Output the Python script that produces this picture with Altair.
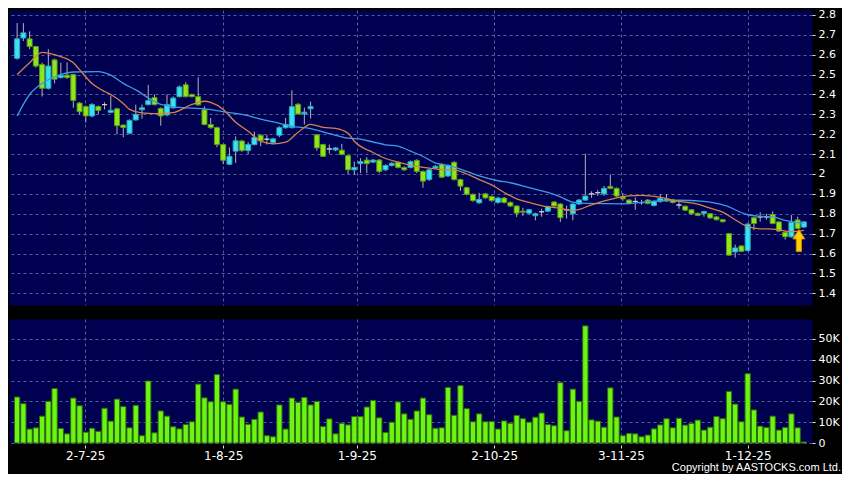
import altair as alt
import pandas as pd

# ---------------- data ----------------
opens = [2.582, 2.684, 2.680, 2.641, 2.551, 2.431, 2.574, 2.485, 2.497, 2.500,
         2.357, 2.339, 2.292, 2.339, 2.349, 2.310, 2.328, 2.246, 2.205, 2.272,
         2.323, 2.349, 2.385, 2.330, 2.297, 2.333, 2.389, 2.449, 2.400, 2.389,
         2.323, 2.249, 2.233, 2.148, 2.049, 2.115, 2.166, 2.118, 2.148, 2.195,
         2.175, 2.159, 2.195, 2.233, 2.233, 2.351, 2.302, 2.328, 2.197, 2.148,
         2.126, 2.121, 2.120, 2.092, 2.021, 2.052, 2.070, 2.060, 2.070, 2.021,
         2.043, 2.059, 2.033, 2.033, 2.069, 2.013, 1.972, 2.030, 2.049, 1.990,
         2.059, 1.972, 1.931, 1.898, 1.855, 1.900, 1.887, 1.857, 1.879, 1.857,
         1.839, 1.813, 1.803, 1.790, 1.810, 1.813, 1.859, 1.849, 1.820, 1.800,
         1.849, 1.869, 1.900, 1.906, 1.900, 1.938, 1.928, 1.885, 1.869, 1.862,
         1.856, 1.869, 1.842, 1.861, 1.874, 1.870, 1.844, 1.838, 1.820, 1.802,
         1.802, 1.800, 1.784, 1.770, 1.700, 1.608, 1.638, 1.615, 1.780, 1.784,
         1.784, 1.797, 1.759, 1.707, 1.684, 1.769, 1.733]
closes = [2.680, 2.710, 2.641, 2.543, 2.431, 2.543, 2.477, 2.497, 2.485, 2.370,
          2.313, 2.292, 2.349, 2.320, 2.349, 2.320, 2.243, 2.234, 2.270, 2.300,
          2.333, 2.369, 2.349, 2.292, 2.349, 2.382, 2.438, 2.389, 2.389, 2.348,
          2.249, 2.233, 2.148, 2.069, 2.089, 2.167, 2.118, 2.148, 2.184, 2.167,
          2.175, 2.177, 2.233, 2.249, 2.339, 2.302, 2.311, 2.339, 2.131, 2.089,
          2.126, 2.131, 2.098, 2.021, 2.033, 2.062, 2.052, 2.070, 2.013, 2.043,
          2.054, 2.033, 2.021, 2.062, 2.013, 1.964, 2.021, 2.039, 1.984, 2.043,
          1.972, 1.939, 1.898, 1.866, 1.872, 1.880, 1.866, 1.879, 1.857, 1.839,
          1.803, 1.808, 1.820, 1.800, 1.810, 1.836, 1.839, 1.780, 1.820, 1.849,
          1.869, 1.889, 1.900, 1.906, 1.928, 1.928, 1.889, 1.875, 1.852, 1.862,
          1.856, 1.852, 1.862, 1.877, 1.864, 1.857, 1.844, 1.818, 1.800, 1.792,
          1.811, 1.779, 1.770, 1.760, 1.592, 1.628, 1.611, 1.748, 1.751, 1.784,
          1.784, 1.751, 1.713, 1.684, 1.756, 1.726, 1.759]
highs = [2.759, 2.759, 2.718, 2.645, 2.560, 2.628, 2.580, 2.560, 2.562, 2.505,
         2.362, 2.345, 2.357, 2.345, 2.361, 2.395, 2.333, 2.250, 2.275, 2.349,
         2.349, 2.448, 2.400, 2.335, 2.400, 2.390, 2.445, 2.462, 2.405, 2.487,
         2.340, 2.282, 2.238, 2.152, 2.134, 2.189, 2.172, 2.160, 2.213, 2.200,
         2.197, 2.182, 2.240, 2.282, 2.421, 2.356, 2.334, 2.364, 2.200, 2.152,
         2.148, 2.136, 2.152, 2.096, 2.062, 2.079, 2.085, 2.075, 2.075, 2.048,
         2.060, 2.063, 2.038, 2.068, 2.074, 2.018, 2.026, 2.044, 2.054, 2.048,
         2.064, 1.976, 1.936, 1.902, 1.905, 1.905, 1.892, 1.885, 1.884, 1.862,
         1.843, 1.830, 1.825, 1.805, 1.825, 1.841, 1.864, 1.853, 1.841, 1.853,
         1.874, 2.103, 1.913, 1.920, 1.940, 1.997, 1.932, 1.905, 1.873, 1.882,
         1.870, 1.873, 1.867, 1.898, 1.898, 1.875, 1.858, 1.842, 1.824, 1.806,
         1.815, 1.804, 1.788, 1.774, 1.704, 1.645, 1.642, 1.752, 1.784, 1.808,
         1.800, 1.812, 1.763, 1.711, 1.793, 1.785, 1.763]
lows = [2.575, 2.669, 2.628, 2.535, 2.390, 2.425, 2.456, 2.480, 2.478, 2.333,
        2.300, 2.259, 2.285, 2.300, 2.325, 2.305, 2.200, 2.185, 2.200, 2.268,
        2.278, 2.345, 2.345, 2.243, 2.290, 2.328, 2.385, 2.385, 2.385, 2.343,
        2.245, 2.228, 2.135, 2.049, 2.045, 2.056, 2.110, 2.100, 2.144, 2.140,
        2.148, 2.150, 2.185, 2.228, 2.230, 2.298, 2.249, 2.279, 2.118, 2.085,
        2.102, 2.115, 2.094, 2.000, 1.995, 2.005, 2.005, 2.055, 2.005, 2.015,
        2.038, 2.028, 2.015, 2.028, 2.005, 1.931, 1.965, 2.025, 1.979, 1.985,
        1.967, 1.915, 1.892, 1.860, 1.850, 1.875, 1.860, 1.850, 1.852, 1.834,
        1.784, 1.790, 1.798, 1.767, 1.785, 1.808, 1.834, 1.759, 1.776, 1.767,
        1.844, 1.864, 1.880, 1.890, 1.890, 1.923, 1.884, 1.865, 1.847, 1.820,
        1.845, 1.847, 1.837, 1.856, 1.860, 1.852, 1.825, 1.813, 1.795, 1.788,
        1.785, 1.775, 1.766, 1.756, 1.588, 1.579, 1.607, 1.610, 1.718, 1.760,
        1.770, 1.747, 1.709, 1.670, 1.680, 1.722, 1.729]
volumes_k = [22.1, 18.9, 6.7, 7.3, 12.9, 20.0, 26.2, 7.0, 4.4, 21.6,
             17.9, 5.2, 7.1, 5.6, 16.7, 10.5, 21.1, 17.5, 7.3, 18.1,
             3.5, 29.8, 4.9, 15.4, 12.9, 7.8, 6.8, 8.9, 10.2, 28.3,
             21.7, 19.8, 32.9, 19.8, 18.6, 25.9, 12.5, 9.0, 11.4, 14.9,
             3.5, 3.0, 18.3, 6.7, 21.6, 19.5, 21.9, 18.3, 20.0, 7.9,
             11.6, 4.4, 9.5, 8.7, 12.7, 12.7, 17.3, 20.5, 12.1, 5.1,
             10.0, 19.7, 14.0, 11.4, 15.4, 21.6, 13.6,
             7.1, 7.3, 26.7, 13.3, 27.6, 16.5, 10.2, 14.0, 10.2, 10.3,
             6.7, 10.6, 9.5, 13.3, 11.7, 10.0, 12.4, 14.4, 8.9, 8.3,
             29.0, 5.9, 25.9, 20.0, 56.3, 11.1, 10.5, 7.6, 26.5, 12.5,
             3.5, 4.6, 4.4, 3.0, 3.8, 6.8, 8.7, 11.7, 7.3, 11.9,
             8.6, 9.4, 11.0, 6.2, 7.6, 12.7, 11.7, 24.8, 18.7, 10.2,
             33.3, 15.9, 8.1, 7.5, 12.9, 6.2, 7.5, 14.0, 7.3, 0.5]

ma_short_idx = [0, 2, 4, 5, 7, 9, 10, 12, 14, 15, 17, 18, 20, 22, 25, 28, 30, 31, 33,
                35, 37, 39, 41, 43, 45, 47, 49, 51, 53, 54, 57, 59, 61, 64, 66, 68,
                70, 72, 74, 76, 78, 80, 82, 85, 87, 89, 90, 92, 95, 98, 100, 103,
                106, 109, 111, 113, 115, 117, 119, 121, 124, 126]
ma_short_val = [2.500, 2.560, 2.612, 2.608, 2.590, 2.560, 2.525, 2.455, 2.415, 2.400,
                2.355, 2.325, 2.307, 2.304, 2.309, 2.350, 2.366, 2.360, 2.325,
                2.260, 2.215, 2.165, 2.152, 2.160, 2.210, 2.250, 2.235, 2.230,
                2.205, 2.165, 2.108, 2.078, 2.060, 2.038, 2.030, 2.022, 2.021,
                2.000, 1.972, 1.945, 1.907, 1.875, 1.857, 1.835, 1.828, 1.816,
                1.822, 1.845, 1.872, 1.890, 1.892, 1.882, 1.862, 1.848, 1.828,
                1.808, 1.770, 1.735, 1.724, 1.723, 1.710, 1.716]
ma_long_idx = [0, 2, 4, 7, 9, 13, 15, 17, 19, 21, 23, 26, 30, 34, 36, 39, 42, 44, 47,
               50, 53, 55, 57, 59, 61, 63, 65, 67, 69, 72, 74, 77, 79, 82, 85, 87,
               89, 91, 97, 100, 103, 106, 110, 112, 114, 116, 117, 119, 121, 123, 126]
ma_long_val = [2.292, 2.400, 2.456, 2.500, 2.513, 2.515, 2.497, 2.456, 2.423, 2.383,
               2.350, 2.335, 2.328, 2.309, 2.300, 2.276, 2.255, 2.240, 2.228,
               2.203, 2.180, 2.175, 2.161, 2.147, 2.140, 2.115, 2.088, 2.055,
               2.043, 2.013, 1.990, 1.966, 1.956, 1.931, 1.907, 1.885, 1.858,
               1.852, 1.850, 1.857, 1.866, 1.868, 1.862, 1.852, 1.835, 1.805,
               1.795, 1.787, 1.784, 1.767, 1.752]

date_tick_pos = [10.9, 33.0, 54.4, 76.4, 96.7, 117.0]
date_tick_labels = ["2-7-25", "1-8-25", "1-9-25", "2-10-25", "3-11-25", "1-12-25"]
price_ticks = [1.4, 1.5, 1.6, 1.7, 1.8, 1.9, 2.0, 2.1, 2.2, 2.3, 2.4, 2.5, 2.6, 2.7, 2.8]
vol_ticks_k = [0, 10, 20, 30, 40, 50]
arrow_idx = [125.2]
arrow_price = [1.665]
copyright_text = ["Copyright by AASTOCKS.com Ltd."]

# ---------------- tables ----------------
N = len(opens)
direction = ["up" if c > o else ("down" if c < o else "flat") for o, c in zip(opens, closes)]
candles = pd.DataFrame({"i": list(range(N)), "open": opens, "close": closes,
                        "high": highs, "low": lows, "dir": direction, "vol": volumes_k})
ma_short = pd.DataFrame({"i": ma_short_idx, "v": ma_short_val})
ma_long = pd.DataFrame({"i": ma_long_idx, "v": ma_long_val})
arrow_df = pd.DataFrame({"i": arrow_idx, "p": arrow_price})
copy_df = pd.DataFrame({"t": copyright_text})

# ---------------- styling ----------------
W, HP, HV = 803, 295, 124
GRID = "#5a5aa0"
FONT = "DejaVu Sans"

xscale = alt.Scale(domain=[-0.5, N - 0.5], nice=False, zero=False)
yscale_p = alt.Scale(domain=[1.341, 2.825], nice=False, zero=False)
yscale_v = alt.Scale(domain=[0, 59.6], nice=False, zero=True)

x_axis_p = alt.Axis(values=date_tick_pos, labels=False, ticks=False, domain=False,
                    grid=True, gridColor=GRID, gridDash=[3, 3], gridWidth=1, title=None)
y_axis_p = alt.Axis(orient="right", values=price_ticks, format=".1~f", grid=True,
                    gridColor=GRID, gridDash=[3, 3], gridWidth=1, domain=False,
                    ticks=True, tickColor="#dddddd", tickSize=3, labelColor="white",
                    labelFont=FONT, labelFontSize=11, labelPadding=3, title=None)

lab_expr = ("[" + ",".join("'%s'" % s for s in date_tick_labels) + "][indexof(["
            + ",".join(str(p) for p in date_tick_pos) + "], datum.value)]")
x_axis_v = alt.Axis(values=date_tick_pos, labelExpr=lab_expr, grid=True, gridColor=GRID,
                    gridDash=[3, 3], gridWidth=1, domain=False, ticks=True,
                    tickColor="#dddddd", tickSize=3, offset=2, labelColor="white",
                    labelFont=FONT, labelFontSize=12, labelPadding=2, title=None)
y_axis_v = alt.Axis(orient="right", values=vol_ticks_k,
                    labelExpr="datum.value == 0 ? '0' : datum.value + 'K'", grid=True,
                    gridColor=GRID, gridDash=[3, 3], gridWidth=1, domain=False,
                    ticks=True, tickColor="#dddddd", tickSize=3, labelColor="white",
                    labelFont=FONT, labelFontSize=11, labelPadding=3, title=None)

X_P = alt.X("i:Q", scale=xscale, axis=x_axis_p)
X_V = alt.X("i:Q", scale=xscale, axis=x_axis_v)

wicks = alt.Chart(candles).mark_rule(color="#b4b4b4", strokeWidth=1, clip=True).encode(
    x=X_P, y=alt.Y("low:Q", scale=yscale_p, axis=y_axis_p), y2="high:Q")

bodies = alt.Chart(candles).mark_bar(size=5, strokeWidth=1, clip=True).encode(
    x=X_P,
    y=alt.Y("open:Q", scale=yscale_p, axis=y_axis_p),
    y2="close:Q",
    fill=alt.Fill("dir:N", scale=alt.Scale(domain=["up", "down", "flat"],
                                           range=["#35e3f2", "#8fe61e", "#d0d0d0"]), legend=None),
    stroke=alt.Stroke("dir:N", scale=alt.Scale(domain=["up", "down", "flat"],
                                               range=["#2aa7bd", "#5a9a12", "#d0d0d0"]), legend=None),
)

line_long = alt.Chart(ma_long).mark_line(color="#3d9be9", strokeWidth=1.3, interpolate="monotone",
                                         clip=True).encode(
    x=X_P, y=alt.Y("v:Q", scale=yscale_p, axis=y_axis_p))
line_short = alt.Chart(ma_short).mark_line(color="#d9804a", strokeWidth=1.3, interpolate="monotone",
                                           clip=True).encode(
    x=X_P, y=alt.Y("v:Q", scale=yscale_p, axis=y_axis_p))

ARROW = "M0,-1L0.55,-0.15L0.24,-0.15L0.24,1L-0.24,1L-0.24,-0.15L-0.55,-0.15Z"
arrow = alt.Chart(arrow_df).mark_point(shape=ARROW, size=484, filled=True, fill="#ffcc00",
                                       stroke="#c98a00", strokeWidth=1, opacity=1).encode(
    x=X_P, y=alt.Y("p:Q", scale=yscale_p, axis=y_axis_p))

price = alt.layer(wicks, bodies, line_long, line_short, arrow).properties(width=W, height=HP)

vol_bars = alt.Chart(candles).mark_bar(size=5.3, fill="#6cf414", stroke="#2f6b08",
                                       strokeWidth=1).encode(
    x=X_V, y=alt.Y("vol:Q", scale=yscale_v, axis=y_axis_v))

copy_txt = alt.Chart(copy_df).mark_text(align="right", baseline="alphabetic", color="white",
                                        font="Liberation Sans", fontSize=11).encode(
    x=alt.value(W + 29), y=alt.value(HV + 28), text="t:N")

volume = alt.layer(vol_bars, copy_txt).properties(width=W, height=HV)

chart = alt.vconcat(price, volume, spacing=12).properties(
    padding=0, background="#000000"
).configure_view(fill="#000050", stroke="transparent")

chart.save("out.html", embed_options={"renderer": "svg", "actions": False})
